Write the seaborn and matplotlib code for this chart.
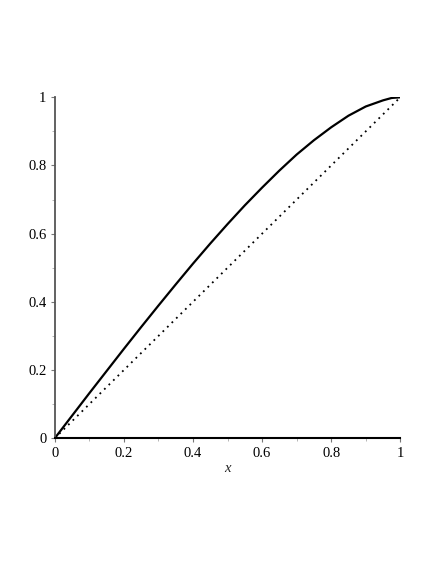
import numpy as np
import pandas as pd
import matplotlib
matplotlib.use("Agg")
import matplotlib.pyplot as plt
import seaborn as sns

# values
x_vals = [0.0, 0.05, 0.1, 0.15, 0.2, 0.25, 0.3, 0.35, 0.4, 0.45, 0.5,
          0.55, 0.6, 0.65, 0.7, 0.75, 0.8, 0.85, 0.9, 0.95, 0.975, 1.0]
curve_vals = [0.0, 0.066, 0.132, 0.197, 0.262, 0.326, 0.389, 0.451, 0.512, 0.571, 0.628,
              0.683, 0.735, 0.785, 0.832, 0.874, 0.912, 0.946, 0.973, 0.991, 0.998, 1.0]
diag_x = [0.0, 1.0]
diag_y = [0.0, 1.0]
tick_vals = [0, 0.2, 0.4, 0.6, 0.8, 1]
tick_labels = ["0", "0.2", "0.4", "0.6", "0.8", "1"]

sns.set_style("white")
plt.rcParams["font.family"] = ["Liberation Serif", "DejaVu Serif"]

fig = plt.figure(figsize=(4.36, 5.64), dpi=100)
ax = fig.add_axes([0.1255, 0.2229, 0.7926, 0.6046])

curve = pd.DataFrame({"x": x_vals, "y": curve_vals})
diag = pd.DataFrame({"x": diag_x, "y": diag_y})
sns.lineplot(data=diag, x="x", y="y", ax=ax, color="black", lw=1.3,
             linestyle=(0, (1, 2.5)))
sns.lineplot(data=curve, x="x", y="y", ax=ax, color="black", lw=1.6)

ax.set_xlim(0, 1)
ax.set_ylim(0, 1)
ax.set_xticks(tick_vals)
ax.set_xticklabels(tick_labels)
ax.set_yticks(tick_vals)
ax.set_yticklabels(tick_labels)
ax.set_xticks(np.arange(0.1, 1.0, 0.2), minor=True)
ax.set_yticks(np.arange(0.1, 1.0, 0.2), minor=True)
ax.tick_params(bottom=True, left=True, which="both")
ax.tick_params(axis="both", which="major", labelsize=10.5, length=3, width=0.8,
               color="#777777", direction="out", pad=3, labelcolor="black")
ax.tick_params(axis="both", which="minor", length=2, width=0.6,
               color="#aaaaaa", direction="out")
ax.set_xlabel("x", fontsize=10.5, fontstyle="italic", labelpad=2)
ax.set_ylabel("")

for side in ["top", "right"]:
    ax.spines[side].set_visible(False)
ax.spines["left"].set_color("#555555")
ax.spines["left"].set_linewidth(1.3)
ax.spines["bottom"].set_color("black")
ax.spines["bottom"].set_linewidth(1.5)

fig.savefig("out.png", dpi=100)
